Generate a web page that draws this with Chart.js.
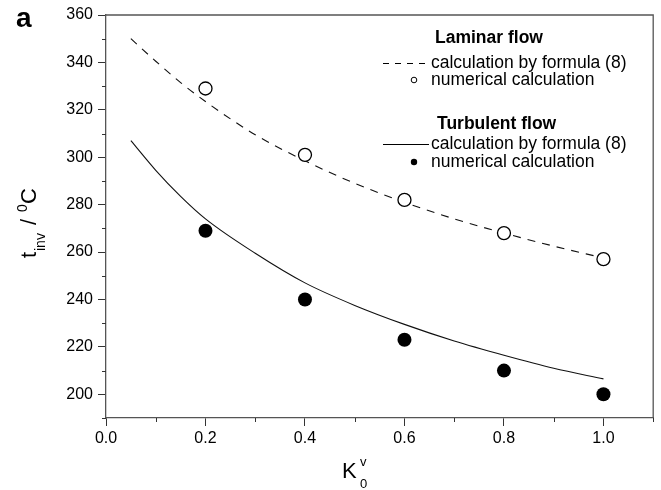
<!DOCTYPE html>
<html>
<head>
<meta charset="utf-8">
<script src="https://cdn.jsdelivr.net/npm/chart.js@4"></script>
<style>
  body { margin: 0; background: #fff; }
  #wrap { position: relative; width: 661px; height: 490px; }
</style>
</head>
<body>
<div id="wrap"><canvas id="mycanvas" width="661" height="490"></canvas></div>
<script>
// numerical calculation points
var numK = [0.2, 0.4, 0.6, 0.8, 1.0];
var laminarNum = [329, 301, 282, 268, 257];
var turbulentNum = [269, 240, 223, 210, 200];

// formula (8) curves
var curveK = [0.05, 0.1, 0.15, 0.2, 0.3, 0.4, 0.5, 0.6, 0.7, 0.8, 0.9, 1.0];
var laminarCurve = [350, 340.5, 331.5, 323.5, 309.5, 298.5, 289, 281, 274, 268, 262.5, 257.5];
var turbulentCurve = [307, 294.5, 283.5, 274, 259.5, 247, 237.5, 229.5, 222.5, 216.5, 211, 206.5];

var xTickLabels = ["0.0", "0.2", "0.4", "0.6", "0.8", "1.0"];

function pts(xs, ys) {
	var out = [];
	for (var i in xs) {
		out.push({x: xs[i], y: ys[i]});
	}
	return out;
}

var FONT = "'Liberation Sans', Arial, sans-serif";

// frame, minor ticks, axis titles, legend
var extras = {
	id: 'extras',
	afterDraw: function(chart) {
		var ctx = chart.ctx;
		var a = chart.chartArea;
		var xs = chart.scales.x;
		var ys = chart.scales.y;
		ctx.save();
		ctx.strokeStyle = "#555";
		ctx.lineWidth = 1.3;
		ctx.beginPath();
		ctx.moveTo(a.left, a.top);
		ctx.lineTo(a.right, a.top);
		ctx.lineTo(a.right, a.bottom);
		ctx.stroke();

		// minor ticks
		ctx.strokeStyle = "#333";
		ctx.lineWidth = 1;
		for (var k = 1; k <= 11; k += 2) {
			var px = Math.round(xs.getPixelForValue(k / 10)) + 0.5;
			ctx.beginPath();
			ctx.moveTo(px, a.bottom);
			ctx.lineTo(px, a.bottom + 4);
			ctx.stroke();
		}
		for (var v = 190; v <= 350; v += 20) {
			var py = Math.round(ys.getPixelForValue(v)) + 0.5;
			ctx.beginPath();
			ctx.moveTo(a.left, py);
			ctx.lineTo(a.left - 4, py);
			ctx.stroke();
		}

		ctx.fillStyle = "#000";
		// panel letter
		ctx.font = "bold 28px " + FONT;
		ctx.textAlign = "left";
		ctx.textBaseline = "alphabetic";
		ctx.fillText("a", 16, 27);

		// x title K_0^v
		ctx.font = "22px " + FONT;
		ctx.fillText("K", 342, 478);
		ctx.font = "13px " + FONT;
		ctx.fillText("0", 360, 488);
		ctx.fillText("v", 360, 466);

		// y title t_inv / 0C (rotated)
		ctx.save();
		ctx.translate(36, 258);
		ctx.rotate(-Math.PI / 2);
		ctx.font = "22px " + FONT;
		ctx.fillText("t", 0, 0);
		ctx.font = "14px " + FONT;
		ctx.fillText("inv", 7, 9);
		ctx.font = "22px " + FONT;
		ctx.fillText("/", 33, 0);
		ctx.font = "14px " + FONT;
		ctx.fillText("0", 46, -9);
		ctx.font = "22px " + FONT;
		ctx.fillText("C", 54, 0);
		ctx.restore();

		// legend
		ctx.font = "bold 17.5px " + FONT;
		ctx.textBaseline = "middle";
		ctx.fillText("Laminar flow", 435, 38);
		ctx.fillText("Turbulent flow", 437, 124);
		ctx.font = "17.5px " + FONT;
		ctx.fillText("calculation by formula (8)", 431, 63);
		ctx.fillText("numerical calculation", 431, 80);
		ctx.fillText("calculation by formula (8)", 431, 144);
		ctx.fillText("numerical calculation", 431, 162);

		ctx.strokeStyle = "#000";
		ctx.lineWidth = 1;
		ctx.setLineDash([6, 6]);
		ctx.beginPath();
		ctx.moveTo(383, 63.5);
		ctx.lineTo(429, 63.5);
		ctx.stroke();
		ctx.setLineDash([]);
		ctx.beginPath();
		ctx.moveTo(383, 144.5);
		ctx.lineTo(429, 144.5);
		ctx.stroke();
		ctx.beginPath();
		ctx.arc(414, 80, 2.8, 0, Math.PI * 2);
		ctx.stroke();
		ctx.beginPath();
		ctx.arc(414, 162, 3.2, 0, Math.PI * 2);
		ctx.fill();
		ctx.restore();
	}
};

var chartdata = {
	datasets: [
		{
			label: "laminar formula",
			type: "line",
			data: pts(curveK, laminarCurve),
			borderColor: "#111",
			borderWidth: 1.1,
			borderDash: [8, 7],
			pointRadius: 0,
			cubicInterpolationMode: "monotone",
			fill: false,
			order: 3
		},
		{
			label: "turbulent formula",
			type: "line",
			data: pts(curveK, turbulentCurve),
			borderColor: "#111",
			borderWidth: 1.1,
			pointRadius: 0,
			cubicInterpolationMode: "monotone",
			fill: false,
			order: 3
		},
		{
			label: "laminar numerical",
			type: "scatter",
			data: pts(numK, laminarNum),
			pointRadius: 6.5,
			pointBorderWidth: 1.3,
			pointBackgroundColor: "#fff",
			pointBorderColor: "#000",
			order: 1
		},
		{
			label: "turbulent numerical",
			type: "scatter",
			data: pts(numK, turbulentNum),
			pointRadius: 7,
			pointBorderWidth: 0,
			pointBackgroundColor: "#000",
			pointBorderColor: "#000",
			order: 1
		}
	]
};

var ctx = document.getElementById("mycanvas");

var LineGraph = new Chart(ctx, {
	type: 'scatter',
	data: chartdata,
	options: {
		responsive: false,
		animation: false,
		layout: { padding: { top: 15, right: 6, left: 0, bottom: 0 } },
		plugins: {
			legend: { display: false },
			tooltip: { enabled: false }
		},
		scales: {
			x: {
				type: 'linear',
				min: 0,
				max: 1.1,
				afterFit: function(scale) { scale.height = 72; },
				afterBuildTicks: function(scale) {
					var t = [];
					for (var i in xTickLabels) t.push({value: parseFloat(xTickLabels[i])});
					scale.ticks = t;
				},
				ticks: {
					color: "#000",
					padding: 3,
					font: { family: FONT, size: 16 },
					callback: function(v) { return v.toFixed(1); }
				},
				grid: { drawOnChartArea: false, tickLength: 8, tickColor: "#333", tickWidth: 1 },
				border: { color: "#555", width: 1.3 }
			},
			y: {
				min: 190,
				max: 360,
				afterFit: function(scale) { scale.width = 106; },
				ticks: {
					stepSize: 20,
					color: "#000",
					padding: 5,
					font: { family: FONT, size: 16 },
					callback: function(v) { return v % 20 === 0 ? v : null; }
				},
				afterBuildTicks: function(scale) {
					var t = [];
					for (var v = 200; v <= 360; v += 20) t.push({value: v});
					scale.ticks = t;
				},
				grid: { drawOnChartArea: false, tickLength: 8, tickColor: "#333", tickWidth: 1 },
				border: { color: "#555", width: 1.3 }
			}
		}
	},
	plugins: [extras]
});
</script>
</body>
</html>
